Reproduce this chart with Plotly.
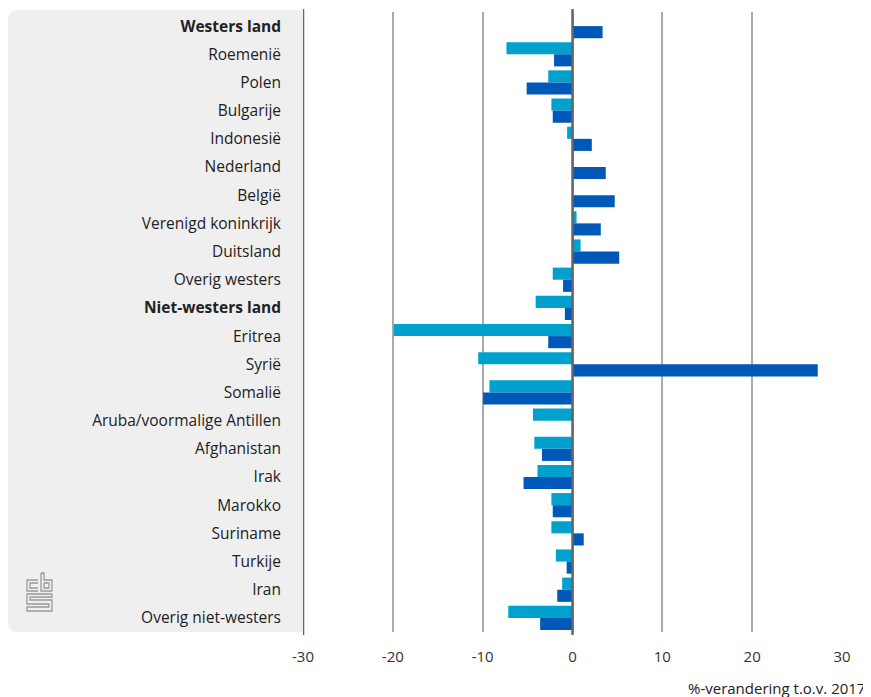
import plotly.graph_objects as go

categories = ["Westers land", "Roemenië", "Polen", "Bulgarije", "Indonesië", "Nederland",
              "België", "Verenigd koninkrijk", "Duitsland", "Overig westers",
              "Niet-westers land", "Eritrea", "Syrië", "Somalië", "Aruba/voormalige Antillen",
              "Afghanistan", "Irak", "Marokko", "Suriname", "Turkije", "Iran",
              "Overig niet-westers"]
series_light = [None, -7.35, -2.7, -2.35, -0.6, None, None, 0.45, 0.9, -2.2,
                -4.1, -19.9, -10.5, -9.25, -4.4, -4.25, -3.9, -2.35, -2.35, -1.85,
                -1.15, -7.15]
series_dark = [3.35, -2.05, -5.1, -2.2, 2.15, 3.7, 4.7, 3.15, 5.2, -1.05,
               -0.85, -2.7, 27.3, -9.95, None, -3.4, -5.45, -2.2, 1.25, -0.65,
               -1.7, -3.6]
bold_cats = {"Westers land", "Niet-westers land"}
tick_vals = [-30, -20, -10, 0, 10, 20, 30]

# page offset (browser body margin)
OX, OY = 8, 8
W, H = 871 - OX, 697 - OY
L, R, T, B = 303 - OX, 871 - 842, 12 - OY, 697 - 632
PW, PH = W - L - R, H - T - B

def px(x):
    return (x - OX - L) / PW

def py(y):
    return (697 - B - y) / PH

fig = go.Figure()
fig.add_trace(go.Bar(y=categories, x=series_light, orientation="h", name="light",
                     marker=dict(color="#00a1cd", line=dict(width=0))))
fig.add_trace(go.Bar(y=categories, x=series_dark, orientation="h", name="dark",
                     marker=dict(color="#0058b8", line=dict(width=0))))

ticktext = [f"<b>{c}</b>" if c in bold_cats else c for c in categories]

# rounded gray panel behind labels
x0, x1, y0, y1, r = 8, 303, 10, 632, 10
path = (f"M {px(x0+r)},{py(y0)} L {px(x1)},{py(y0)} L {px(x1)},{py(y1)} "
        f"L {px(x0+r)},{py(y1)} Q {px(x0)},{py(y1)} {px(x0)},{py(y1-r)} "
        f"L {px(x0)},{py(y0+r)} Q {px(x0)},{py(y0)} {px(x0+r)},{py(y0)} Z")
shapes = [dict(type="path", xref="paper", yref="paper", path=path,
               fillcolor="#efefef", line=dict(width=0), layer="below")]

# cbs logo (approximate outline strokes)
def pline(pts):
    return "M " + " L ".join(f"{px(a)},{py(b)}" for a, b in pts)

logo_paths = [
    [(38, 580), (27, 580), (27, 591), (38, 591)],
    [(38, 583), (30, 583), (30, 588), (38, 588)],
    [(41, 573), (41, 591), (52, 591), (52, 580), (44, 580), (44, 573), (41, 573)],
    [(44, 583), (49, 583), (49, 588), (44, 588), (44, 583)],
    [(52, 594), (27, 594), (27, 604), (49, 604), (49, 607), (27, 607), (27, 611), (52, 611),
     (52, 600), (30, 600), (30, 597), (52, 597), (52, 594)],
]
for pts in logo_paths:
    shapes.append(dict(type="path", xref="paper", yref="paper", path=pline(pts),
                       line=dict(color="#9a9a9a", width=1.3)))

# dark axis lines at -30 and 0
for v in [-30, 0]:
    shapes.append(dict(type="line", xref="x", yref="paper", x0=v, x1=v, y0=-0.005, y1=1.005,
                       line=dict(color="#666666", width=2.5), layer="above"))

fig.update_layout(
    width=W, height=H,
    margin=dict(l=L, r=R, t=T, b=B),
    paper_bgcolor="white", plot_bgcolor="white",
    barmode="group", bargap=0.14, bargroupgap=0.0,
    showlegend=False,
    font=dict(family="Open Sans, sans-serif", size=15, color="#222222"),
    shapes=shapes,
    xaxis=dict(range=[-30, 30], tickvals=tick_vals, ticktext=[str(v) for v in tick_vals],
               showgrid=True, gridcolor="#aaaaaa", gridwidth=1.5, zeroline=False,
               showline=False, ticks="", tickfont=dict(size=15, color="#333333"),
               ticklabelstandoff=14),
    yaxis=dict(categoryorder="array", categoryarray=categories, autorange="reversed",
               tickvals=categories, ticktext=ticktext, showgrid=False, zeroline=False,
               showline=False, ticks="", ticklabelstandoff=21,
               tickfont=dict(size=15.5, color="#222222")),
    annotations=[dict(text="%-verandering t.o.v. 2017", xref="paper", yref="paper",
                      x=px(866), y=py(688), xanchor="right", yanchor="middle",
                      showarrow=False, borderpad=0,
                      font=dict(size=15, color="#222222"))],
)

fig.write_html("out.html")
